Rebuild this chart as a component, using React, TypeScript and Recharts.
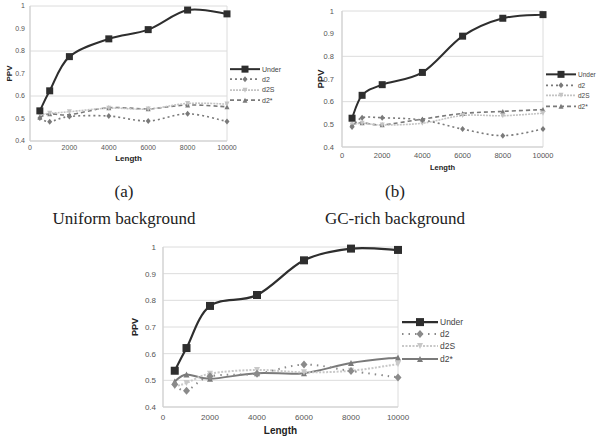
import React from 'react';
import { LineChart, Line, XAxis, YAxis, CartesianGrid, Legend } from 'recharts';

const lengths = [500, 1000, 2000, 4000, 6000, 8000, 10000];
const xTicks = [0, 2000, 4000, 6000, 8000, 10000];
const yTicks = [0.4, 0.5, 0.6, 0.7, 0.8, 0.9, 1];

// (a) uniform background
const uniformUnder = [0.534, 0.623, 0.775, 0.854, 0.895, 0.982, 0.965];
const uniformD2 = [0.502, 0.486, 0.509, 0.511, 0.489, 0.521, 0.487];
const uniformD2S = [0.517, 0.523, 0.53, 0.546, 0.542, 0.567, 0.564];
const uniformD2Star = [0.506, 0.521, 0.517, 0.548, 0.543, 0.56, 0.552];

// (b) GC-rich background
const gcUnder = [0.527, 0.628, 0.675, 0.729, 0.889, 0.968, 0.984];
const gcD2 = [0.488, 0.529, 0.529, 0.519, 0.479, 0.45, 0.479];
const gcD2S = [0.497, 0.505, 0.497, 0.505, 0.539, 0.538, 0.549];
const gcD2Star = [0.5, 0.507, 0.498, 0.523, 0.548, 0.557, 0.565];

// (c)
const thirdUnder = [0.536, 0.621, 0.779, 0.82, 0.95, 0.994, 0.989];
const thirdD2 = [0.484, 0.461, 0.515, 0.525, 0.559, 0.535, 0.511];
const thirdD2S = [0.477, 0.49, 0.525, 0.539, 0.53, 0.536, 0.561];
const thirdD2Star = [0.496, 0.522, 0.506, 0.527, 0.527, 0.565, 0.586];

const seriesNames = ['Under', 'd2', 'd2S', 'd2*'];

const sans = 'Liberation Sans, Arial, sans-serif';

// smooth line like the spreadsheet's "smoothed line" option
const catmullRom = (ctx: any) => {
  let pts: number[][] = [];
  return {
    areaStart() {},
    areaEnd() {},
    lineStart() { pts = []; },
    point(x: number, y: number) { pts.push([+x, +y]); },
    lineEnd() {
      if (!pts.length) return;
      ctx.moveTo(pts[0][0], pts[0][1]);
      for (let i = 0; i < pts.length - 1; i++) {
        const p0 = pts[i - 1] || pts[i];
        const p1 = pts[i];
        const p2 = pts[i + 1];
        const p3 = pts[i + 2] || p2;
        ctx.bezierCurveTo(
          p1[0] + (p2[0] - p0[0]) / 6, p1[1] + (p2[1] - p0[1]) / 6,
          p2[0] - (p3[0] - p1[0]) / 6, p2[1] - (p3[1] - p1[1]) / 6,
          p2[0], p2[1],
        );
      }
    },
  };
};

type Marker = 'square' | 'diamond' | 'down' | 'up';

const drawMarker = (m: Marker, cx: number, cy: number, s: number, fill: string, key?: any) => {
  const h = s / 2;
  if (m === 'square') return <rect key={key} x={cx - h} y={cy - h} width={s} height={s} fill={fill} />;
  if (m === 'diamond') return <polygon key={key} points={`${cx},${cy - h - 0.5} ${cx + h},${cy} ${cx},${cy + h + 0.5} ${cx - h},${cy}`} fill={fill} />;
  if (m === 'down') return <polygon key={key} points={`${cx - h},${cy - h} ${cx + h},${cy - h} ${cx},${cy + h}`} fill={fill} />;
  return <polygon key={key} points={`${cx - h},${cy + h} ${cx + h},${cy + h} ${cx},${cy - h}`} fill={fill} />;
};

interface Style { color: string; width: number; dash?: string; marker: Marker; size: number }

const baseStyles: Style[] = [
  { color: '#2e2e2e', width: 2, marker: 'square', size: 7 },
  { color: '#7a7a7a', width: 1.6, dash: '2 3', marker: 'diamond', size: 5 },
  { color: '#c4c4c4', width: 1.6, dash: '2 1', marker: 'down', size: 5 },
  { color: '#7a7a7a', width: 1.6, dash: '4 3', marker: 'up', size: 5 },
];

interface PanelProps {
  left: number; top: number; width: number; height: number;
  margin: { top: number; right: number; left: number; bottom: number };
  yWidth: number; xHeight: number; xTickMargin: number; yTickMargin: number;
  tickFont: number; ppvFont: number; lengthFont: number; legendFont: number;
  ppvX: number; lengthY: number;
  legendLeft: number; legendTop: number; legendRow: number; legendLine: number;
  series: number[][];
  styles: Style[];
}

const Panel: React.FC<PanelProps> = (p) => {
  const rows = lengths.map((len, i) => ({
    len,
    s0: p.series[0][i], s1: p.series[1][i], s2: p.series[2][i], s3: p.series[3][i],
  }));
  const plotLeft = p.margin.left + p.yWidth;
  const plotRight = p.width - p.margin.right;
  return (
    <div style={{ position: 'absolute', left: p.left, top: p.top }}>
      <LineChart width={p.width} height={p.height} data={rows} margin={p.margin}>
        <CartesianGrid
          stroke="#dcdcdc"
          verticalCoordinatesGenerator={() => [plotLeft, plotRight]}
        />
        <XAxis
          dataKey="len" type="number" domain={[0, 10000]} ticks={xTicks}
          height={p.xHeight} tickLine={false} tickSize={0} tickMargin={p.xTickMargin}
          axisLine={{ stroke: '#cfcfcf' }}
          tick={{ fill: '#555', fontSize: p.tickFont, fontFamily: sans }}
          label={() => (
            <text x={(plotLeft + plotRight) / 2} y={p.lengthY} textAnchor="middle" dominantBaseline="central"
              fontSize={p.lengthFont} fontWeight="bold" fill="#222" fontFamily={sans}>Length</text>
          )}
        />
        <YAxis
          type="number" domain={[0.4, 1]} ticks={yTicks} width={p.yWidth}
          tickLine={false} tickSize={0} tickMargin={p.yTickMargin}
          axisLine={{ stroke: '#cfcfcf' }}
          tick={{ fill: '#555', fontSize: p.tickFont, fontFamily: sans }}
          label={(lp: any) => {
            const vb = lp.viewBox || {};
            const cy = vb.y + vb.height / 2;
            return (
              <text x={p.ppvX} y={cy} transform={`rotate(-90 ${p.ppvX} ${cy})`} textAnchor="middle" dominantBaseline="central"
                fontSize={p.ppvFont} fontWeight="bold" fill="#222" fontFamily={sans}>PPV</text>
            );
          }}
        />
        {p.styles.map((s, k) => (
          <Line
            key={k}
            dataKey={`s${k}`}
            name={seriesNames[k]}
            type={catmullRom as any}
            stroke={s.color}
            strokeWidth={s.width}
            strokeDasharray={s.dash}
            dot={(dp: any) => drawMarker(s.marker, dp.cx, dp.cy, s.size, s.color, `${k}-${dp.index}`)}
            activeDot={false}
            isAnimationActive={false}
          />
        )).reverse()}
        <Legend
          layout="vertical" align="center" verticalAlign="middle"
          wrapperStyle={{ left: p.legendLeft, top: p.legendTop, width: 'auto' }}
          content={() => (
            <div style={{ fontFamily: sans, fontSize: p.legendFont, color: '#444' }}>
              {p.styles.map((s, k) => (
                <div key={k} style={{ display: 'flex', alignItems: 'center', height: p.legendRow }}>
                  <svg width={p.legendLine} height={p.legendRow}>
                    <line x1={0} x2={p.legendLine} y1={p.legendRow / 2} y2={p.legendRow / 2}
                      stroke={s.color} strokeWidth={s.width} strokeDasharray={s.dash} />
                    {drawMarker(s.marker, p.legendLine / 2, p.legendRow / 2, s.size, s.color)}
                  </svg>
                  <span style={{ marginLeft: 2 }}>{seriesNames[k]}</span>
                </div>
              ))}
            </div>
          )}
        />
      </LineChart>
    </div>
  );
};

const caption: React.CSSProperties = {
  position: 'absolute', fontFamily: 'Liberation Serif, Times New Roman, serif', fontSize: 17,
  color: '#222', textAlign: 'center', width: 240, lineHeight: '20px',
};

export default function App() {
  return (
    <div style={{ position: 'absolute', left: 0, top: 0, width: 600, height: 440, background: '#fff', overflow: 'hidden' }}>
      <Panel
        left={0} top={0} width={300} height={165}
        margin={{ top: 6, right: 73, left: 0, bottom: 0 }}
        yWidth={30} xHeight={24} xTickMargin={4} yTickMargin={5}
        tickFont={7} ppvFont={8} lengthFont={8} legendFont={7}
        ppvX={9} lengthY={158}
        legendLeft={230} legendTop={64} legendRow={10.3} legendLine={30}
        series={[uniformUnder, uniformD2, uniformD2S, uniformD2Star]}
        styles={baseStyles}
      />
      <Panel
        left={300} top={0} width={300} height={176}
        margin={{ top: 11, right: 57, left: 0, bottom: 0 }}
        yWidth={42} xHeight={29} xTickMargin={6} yTickMargin={8}
        tickFont={7.5} ppvFont={9.5} lengthFont={7.5} legendFont={6.5}
        ppvX={20} lengthY={167}
        legendLeft={246} legendTop={69} legendRow={10.7} legendLine={30}
        series={[gcUnder, gcD2, gcD2S, gcD2Star]}
        styles={baseStyles}
      />
      <Panel
        left={120} top={240} width={480} height={200}
        margin={{ top: 7, right: 202, left: 0, bottom: 0 }}
        yWidth={43} xHeight={33} xTickMargin={7} yTickMargin={7}
        tickFont={8} ppvFont={9} lengthFont={10} legendFont={8.5}
        ppvX={15} lengthY={190}
        legendLeft={282} legendTop={76} legendRow={12.2} legendLine={36}
        series={[thirdUnder, thirdD2, thirdD2S, thirdD2Star]}
        styles={[
          { color: '#2e2e2e', width: 2.2, marker: 'square', size: 8 },
          { color: '#8a8a8a', width: 2, dash: '1.5 5', marker: 'diamond', size: 7 },
          { color: '#c8c8c8', width: 2, dash: '2 1.5', marker: 'down', size: 6 },
          { color: '#7a7a7a', width: 2, marker: 'up', size: 6 },
        ]}
      />
      <div style={{ ...caption, left: 4, top: 182 }}>(a)</div>
      <div style={{ ...caption, left: 4, top: 209 }}>Uniform background</div>
      <div style={{ ...caption, left: 275, top: 182 }}>(b)</div>
      <div style={{ ...caption, left: 275, top: 209 }}>GC-rich background</div>
    </div>
  );
}
